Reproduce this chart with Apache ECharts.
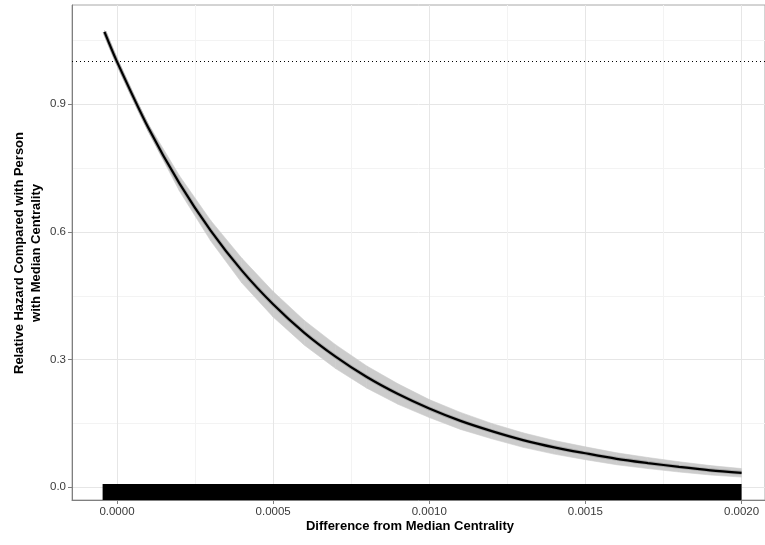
<!DOCTYPE html>
<html>
<head>
<meta charset="utf-8">
<script src="https://cdn.jsdelivr.net/npm/echarts@6/dist/echarts.min.js"></script>
<style>
  html, body { margin: 0; padding: 0; background: #fff; }
  #chart { width: 765px; height: 545px; }
</style>
</head>
<body>
<div id="chart"></div>
<script>
/* ===== data ===== */
const xs = [-0.00004, 0, 0.0001, 0.0002, 0.0003, 0.0004, 0.0005, 0.0006, 0.0007, 0.0008, 0.0009,
  0.0010, 0.0011, 0.0012, 0.0013, 0.0014, 0.0015, 0.0016, 0.0017, 0.0018, 0.0019, 0.0020];
const hazard = [1.070, 1.000, 0.845, 0.714, 0.603, 0.509, 0.430, 0.363, 0.307, 0.259, 0.219,
  0.185, 0.156, 0.132, 0.111, 0.094, 0.080, 0.067, 0.057, 0.048, 0.040, 0.034];
const lower = [1.066, 1.000, 0.836, 0.696, 0.579, 0.480, 0.400, 0.334, 0.279, 0.233, 0.195,
  0.164, 0.136, 0.114, 0.094, 0.078, 0.065, 0.053, 0.044, 0.036, 0.029, 0.024];
const upper = [1.074, 1.000, 0.854, 0.732, 0.627, 0.538, 0.460, 0.392, 0.335, 0.285, 0.243,
  0.206, 0.176, 0.150, 0.128, 0.110, 0.095, 0.081, 0.070, 0.060, 0.051, 0.044];
const rugRange = [-0.000046, 0.0020];
const refLine = 1.0;

const xTicks = [0, 0.0005, 0.0010, 0.0015, 0.0020];
const xMinor = [0.00025, 0.00075, 0.00125, 0.00175];
const yTicks = [0, 0.3, 0.6, 0.9];
const yMinor = [0.15, 0.45, 0.75, 1.05];

const xMin = -0.000144, xMax = 0.002075;
const yMin = -0.0298, yMax = 1.133;

const chart = echarts.init(document.getElementById("chart"), null, { renderer: "canvas" });

const labelStyle = { color: "#3a3a3a", fontSize: 11.5, fontFamily: "Liberation Sans, Arial, sans-serif" };
const axisGray = "#7f7f7f";

chart.setOption({
  animation: false,
  grid: {
    left: 72, right: 0, top: 5, bottom: 45,
    show: true, borderColor: "#a8a8a8", borderWidth: 1
  },
  xAxis: [
    {
      type: "value", min: xMin, max: xMax,
      axisLine: { show: true, onZero: false, lineStyle: { color: axisGray } },
      axisTick: { show: true, length: 4, customValues: xTicks, lineStyle: { color: axisGray } },
      axisLabel: { customValues: xTicks, ...labelStyle, margin: 6,
        formatter: (v) => v.toFixed(4) },
      splitLine: { show: true, lineStyle: { color: "#e6e6e6", width: 1 } }
    },
    {
      type: "value", min: xMin, max: xMax, position: "top",
      axisLine: { show: false },
      axisTick: { show: false, customValues: xMinor },
      axisLabel: { show: false, customValues: xMinor },
      splitLine: { show: true, lineStyle: { color: "#f3f3f3", width: 1 } }
    }
  ],
  yAxis: [
    {
      type: "value", min: yMin, max: yMax,
      axisLine: { show: true, onZero: false, lineStyle: { color: axisGray } },
      axisTick: { show: true, length: 4, customValues: yTicks, lineStyle: { color: axisGray } },
      axisLabel: { customValues: yTicks, ...labelStyle, margin: 6,
        formatter: (v) => v.toFixed(1) },
      splitLine: { show: true, lineStyle: { color: "#e6e6e6", width: 1 } }
    },
    {
      type: "value", min: yMin, max: yMax, position: "right",
      axisLine: { show: false },
      axisTick: { show: false, customValues: yMinor },
      axisLabel: { show: false, customValues: yMinor },
      splitLine: { show: true, lineStyle: { color: "#f3f3f3", width: 1 } }
    }
  ],
  series: [
    /* 置信带：每段一个四边形 */
    {
      type: "custom",
      renderItem: (params, api) => {
        const i = params.dataIndex;
        if (i >= xs.length - 1) return null;
        const p = [
          api.coord([xs[i], upper[i]]),
          api.coord([xs[i + 1], upper[i + 1]]),
          api.coord([xs[i + 1], lower[i + 1]]),
          api.coord([xs[i], lower[i]])
        ];
        return {
          type: "polygon",
          shape: { points: p },
          style: { fill: "#cccccc", stroke: "#cccccc", lineWidth: 0.6 }
        };
      },
      encode: { x: 0, y: [1, 2] },
      data: xs.map((x, i) => [x, lower[i], upper[i]])
    },
    /* 线的灰色边 */
    {
      type: "line", symbol: "none", smooth: 0.3,
      lineStyle: { color: "#a8a8a8", width: 4 },
      data: xs.map((x, i) => [x, hazard[i]])
    },
    /* 主曲线 */
    {
      type: "line", symbol: "none", smooth: 0.3,
      lineStyle: { color: "#000", width: 2.2 },
      data: xs.map((x, i) => [x, hazard[i]]),
      markLine: {
        silent: true, symbol: "none", label: { show: false },
        lineStyle: { color: "#000", type: [1, 3], width: 1 },
        data: [{ yAxis: refLine }]
      }
    },
    /* rug */
    {
      type: "custom",
      renderItem: (params, api) => {
        const a = api.coord([api.value(0), yMin]);
        const b = api.coord([api.value(1), yMin]);
        return {
          type: "rect",
          shape: { x: a[0], y: a[1] - 16, width: b[0] - a[0], height: 16 },
          style: { fill: "#000" }
        };
      },
      encode: { x: [0, 1] },
      data: [rugRange]
    }
  ],
  graphic: [
    {
      type: "text", x: 410, y: 526,
      style: {
        text: "Difference from Median Centrality",
        fontSize: 13, fontWeight: "bold", fill: "#000",
        fontFamily: "Liberation Sans, Arial, sans-serif",
        align: "center", verticalAlign: "middle"
      }
    },
    {
      type: "text", x: 28, y: 253, rotation: Math.PI / 2,
      style: {
        text: "Relative Hazard Compared with Person\nwith Median Centrality",
        fontSize: 13, fontWeight: "bold", fill: "#000", lineHeight: 17,
        fontFamily: "Liberation Sans, Arial, sans-serif",
        align: "center", verticalAlign: "middle"
      }
    }
  ]
});
</script>
</body>
</html>
